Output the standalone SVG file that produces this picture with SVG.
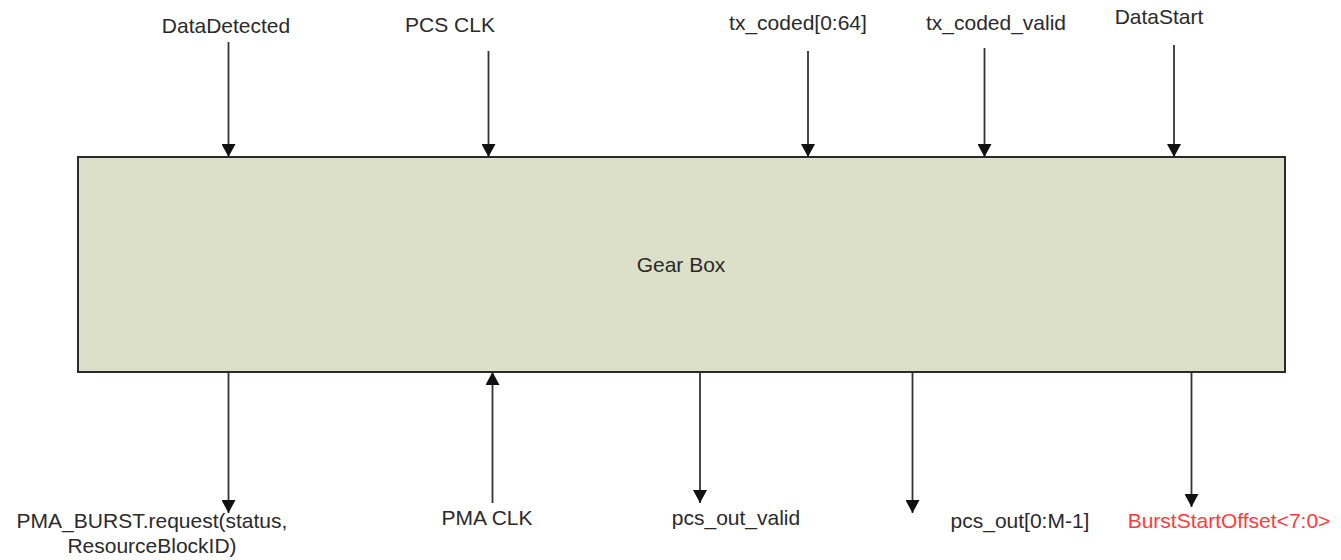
<svg xmlns="http://www.w3.org/2000/svg" width="1341" height="560" viewBox="0 0 1341 560">
  <style>
    .lbl { font-family: "Liberation Sans", Arial, sans-serif; font-size: 21px; fill: #2a2a2a; text-anchor: middle; }
    .red { fill: #ff3b3b; }
    .wire { stroke: #333; stroke-width: 1.8; fill: none; marker-end: url(#head); }
  </style>
  <defs>
    <marker id="head" viewBox="0 0 13 14" refX="13" refY="7" markerWidth="13" markerHeight="14" markerUnits="userSpaceOnUse" orient="auto">
      <path d="M0,0 L13,7 L0,14 Z" fill="#111"/>
    </marker>
  </defs>

  <rect width="1341" height="560" fill="#ffffff"/>

  <!-- Gear box block -->
  <g id="gearbox">
    <rect x="78" y="157" width="1207" height="215" fill="#dde0c9" stroke="#2a2a2a" stroke-width="2"/>
    <text class="lbl" x="681" y="272">Gear Box</text>
  </g>

  <!-- Signal labels -->
  <g id="sig-datadetected"><text class="lbl" x="226" y="33">DataDetected</text></g>
  <g id="sig-pcsclk"><text class="lbl" x="450" y="32">PCS CLK</text></g>
  <g id="sig-txcoded"><text class="lbl" x="798" y="30">tx_coded[0:64]</text></g>
  <g id="sig-txcodedvalid"><text class="lbl" x="996" y="30">tx_coded_valid</text></g>
  <g id="sig-datastart"><text class="lbl" x="1159" y="24">DataStart</text></g>

  <g id="sig-pmaburst">
    <text class="lbl" x="152" y="528">PMA_BURST.request(status,</text>
    <text class="lbl" x="152" y="553">ResourceBlockID)</text>
  </g>
  <g id="sig-pmaclk"><text class="lbl" x="487" y="525">PMA CLK</text></g>
  <g id="sig-pcsoutvalid"><text class="lbl" x="736" y="525">pcs_out_valid</text></g>
  <g id="sig-pcsout"><text class="lbl" x="1020" y="528">pcs_out[0:M-1]</text></g>
  <g id="sig-burststartoffset"><text class="lbl red" x="1229" y="528">BurstStartOffset&lt;7:0&gt;</text></g>

  <!-- Connectors -->
  <g id="connectors">
    <line class="wire" x1="228.5" y1="42" x2="228.5" y2="157"/>
    <line class="wire" x1="488.5" y1="51" x2="488.5" y2="157"/>
    <line class="wire" x1="808" y1="51" x2="808" y2="157"/>
    <line class="wire" x1="984.5" y1="48" x2="984.5" y2="157"/>
    <line class="wire" x1="1174" y1="45" x2="1174" y2="157"/>

    <line class="wire" x1="228.5" y1="372" x2="228.5" y2="513"/>
    <line class="wire" x1="492.5" y1="503" x2="492.5" y2="372"/>
    <line class="wire" x1="700" y1="372" x2="700" y2="503"/>
    <line class="wire" x1="912.5" y1="372" x2="912.5" y2="513"/>
    <line class="wire" x1="1191.5" y1="372" x2="1191.5" y2="507"/>
  </g>
</svg>
